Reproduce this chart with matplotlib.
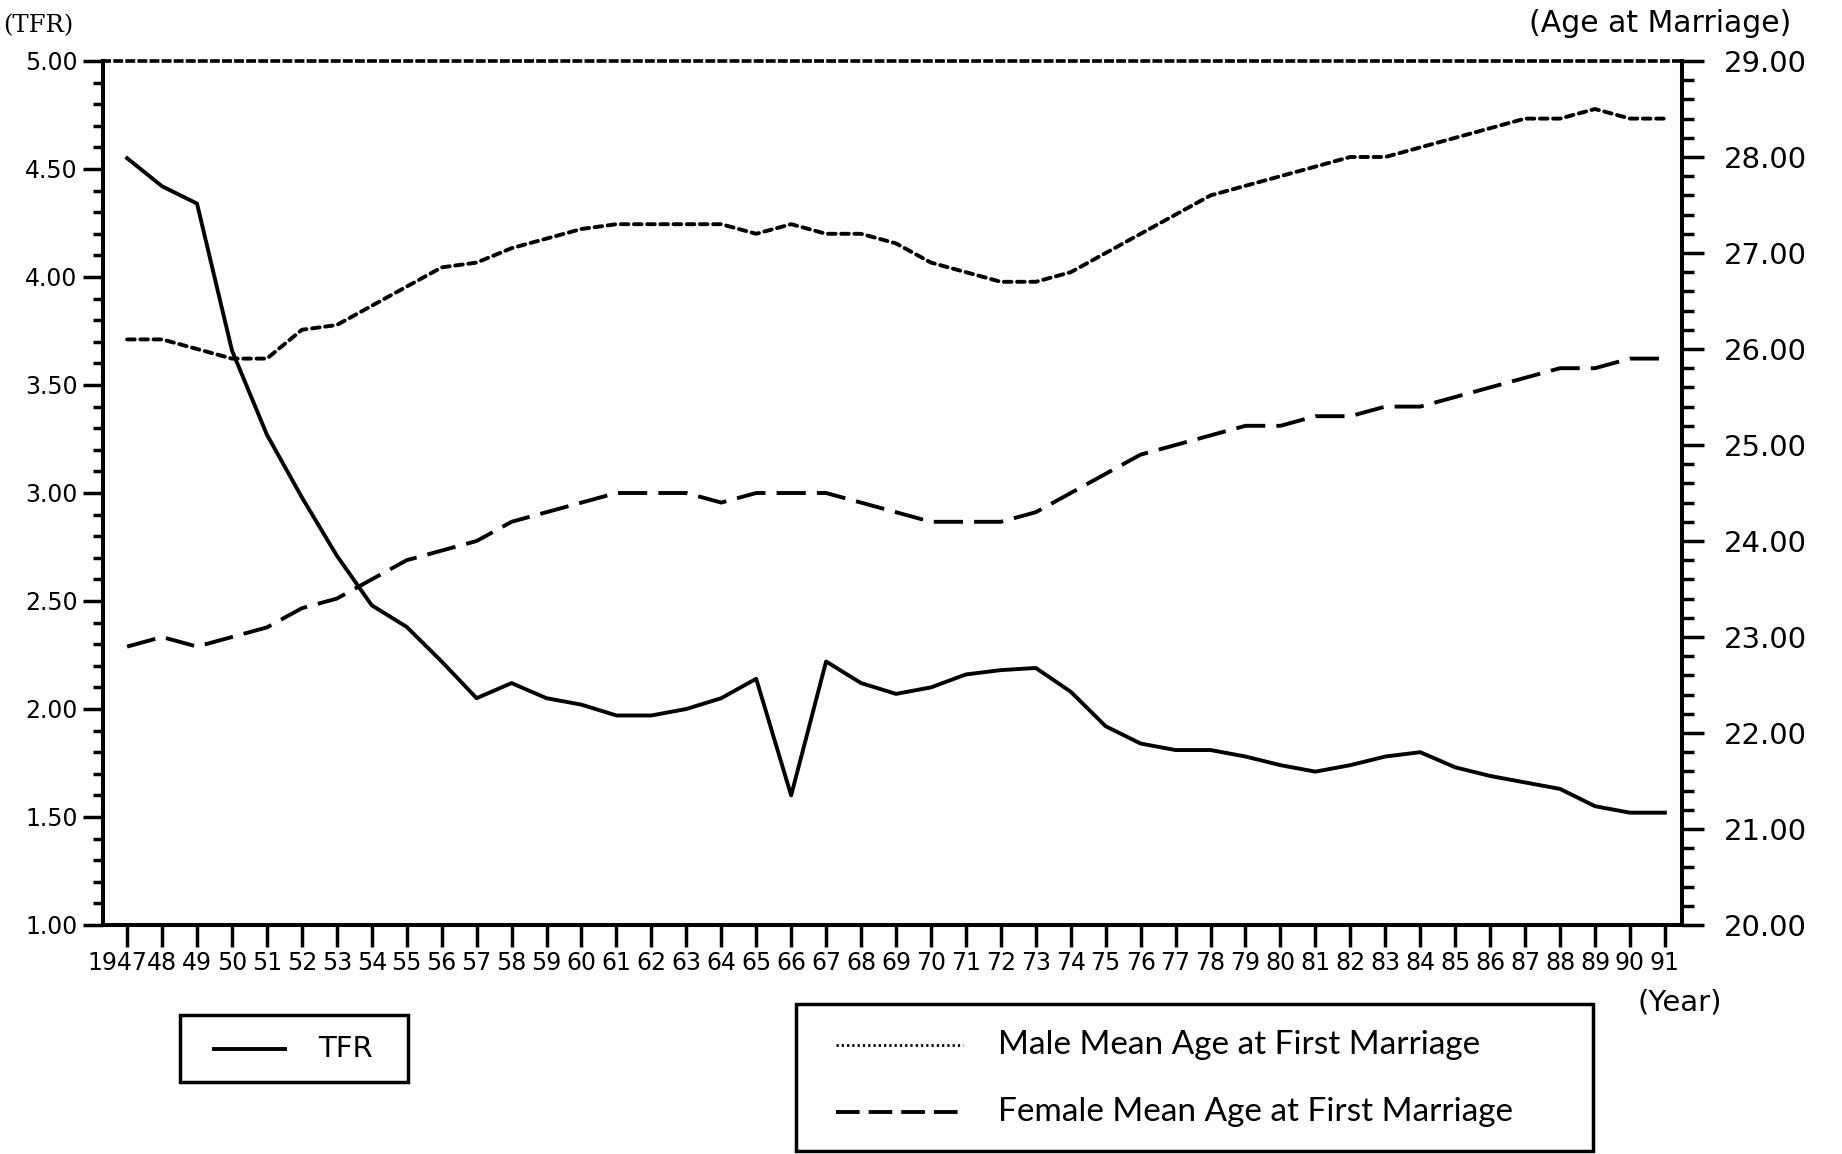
import matplotlib
matplotlib.use('Agg')
import matplotlib.pyplot as plt
from matplotlib.ticker import MultipleLocator, FormatStrFormatter, FixedLocator, FixedFormatter
from matplotlib.lines import Line2D
from matplotlib.patches import Rectangle
from matplotlib.transforms import ScaledTranslation

plt.rcParams['lines.scale_dashes'] = False
plt.rcParams['font.family'] = ['DejaVu Sans']

# ---------------- data ----------------
years = [1947, 1948, 1949, 1950, 1951, 1952, 1953, 1954, 1955, 1956,
         1957, 1958, 1959, 1960, 1961, 1962, 1963, 1964, 1965, 1966,
         1967, 1968, 1969, 1970, 1971, 1972, 1973, 1974, 1975, 1976,
         1977, 1978, 1979, 1980, 1981, 1982, 1983, 1984, 1985, 1986,
         1987, 1988, 1989, 1990, 1991]
year_labels = ['1947', '48', '49', '50', '51', '52', '53', '54', '55', '56',
               '57', '58', '59', '60', '61', '62', '63', '64', '65', '66',
               '67', '68', '69', '70', '71', '72', '73', '74', '75', '76',
               '77', '78', '79', '80', '81', '82', '83', '84', '85', '86',
               '87', '88', '89', '90', '91']
tfr = [4.55, 4.42, 4.34, 3.66, 3.27, 2.98, 2.71, 2.48, 2.38, 2.22,
       2.05, 2.12, 2.05, 2.02, 1.97, 1.97, 2.00, 2.05, 2.14, 1.60,
       2.22, 2.12, 2.07, 2.10, 2.16, 2.18, 2.19, 2.08, 1.92, 1.84,
       1.81, 1.81, 1.78, 1.74, 1.71, 1.74, 1.78, 1.80, 1.73, 1.69,
       1.66, 1.63, 1.55, 1.52, 1.52]
male_age = [26.1, 26.1, 26.0, 25.9, 25.9, 26.2, 26.25, 26.45, 26.65, 26.85,
            26.9, 27.05, 27.15, 27.25, 27.3, 27.3, 27.3, 27.3, 27.2, 27.3,
            27.2, 27.2, 27.1, 26.9, 26.8, 26.7, 26.7, 26.8, 27.0, 27.2,
            27.4, 27.6, 27.7, 27.8, 27.9, 28.0, 28.0, 28.1, 28.2, 28.3,
            28.4, 28.4, 28.5, 28.4, 28.4]
female_age = [22.9, 23.0, 22.9, 23.0, 23.1, 23.3, 23.4, 23.6, 23.8, 23.9,
              24.0, 24.2, 24.3, 24.4, 24.5, 24.5, 24.5, 24.4, 24.5, 24.5,
              24.5, 24.4, 24.3, 24.2, 24.2, 24.2, 24.3, 24.5, 24.7, 24.9,
              25.0, 25.1, 25.2, 25.2, 25.3, 25.3, 25.4, 25.4, 25.5, 25.6,
              25.7, 25.8, 25.8, 25.9, 25.9]
legend_tfr = 'TFR'
legend_male = 'Male Mean Age at First Marriage'
legend_female = 'Female Mean Age at First Marriage'

# ---------------- layout helpers ----------------
W, H = 1842, 1154
def fx(px):
    return px / W
def fy(py):
    return 1 - py / H

fig = plt.figure(figsize=(W / 100, H / 100), dpi=100)
L, R, T, B = 103, 1682, 61, 925
ax = fig.add_axes([fx(L), fy(B), (R - L) / W, (B - T) / H])
ax2 = ax.twinx()

LW = 2.8
ax.plot(years, tfr, color='black', lw=LW, solid_joinstyle='round', zorder=3)
ax2.plot(years, male_age, color='black', lw=LW, dashes=(5.5, 4.0),
         dash_capstyle='round', zorder=3)
ax2.plot(years, female_age, color='black', lw=LW, dashes=(21, 8), zorder=3)

ax.set_xlim(1946.31, 1991.49)
ax.set_ylim(1.0, 5.0)
ax2.set_ylim(20.0, 29.0)

# spines
spw = 2.9
for a in (ax, ax2):
    for s in a.spines.values():
        s.set_linewidth(spw)
ax.spines['right'].set_visible(False)
ax2.spines['left'].set_visible(False)
ax2.spines['bottom'].set_visible(False)
ax2.spines['top'].set_visible(False)
ax.spines['top'].set_linestyle((0, (4.5, 4.2)))
ax.spines['top'].set_linewidth(2.6)

# x ticks
ax.xaxis.set_major_locator(FixedLocator(years))
ax.xaxis.set_major_formatter(FixedFormatter(year_labels))
ax.tick_params(axis='x', which='major', direction='out', length=16, width=2.5,
               pad=3, labelsize=17)
xlabs = ax.get_xticklabels()
for lab in xlabs:
    lab.set_fontfamily(['Liberation Sans Narrow', 'DejaVu Sans'])
xlabs[0].set_transform(xlabs[0].get_transform() +
                       ScaledTranslation(-10 / 100, 0, fig.dpi_scale_trans))

# left y ticks
ax.yaxis.set_major_locator(MultipleLocator(0.5))
ax.yaxis.set_minor_locator(MultipleLocator(0.1))
ax.yaxis.set_major_formatter(FormatStrFormatter('%.2f'))
ax.tick_params(axis='y', which='major', direction='out', length=14.4, width=2.5,
               pad=4, labelsize=17)
ax.tick_params(axis='y', which='minor', direction='out', length=7.2, width=2.5)

# right y ticks
ax2.yaxis.set_major_locator(MultipleLocator(1.0))
ax2.yaxis.set_minor_locator(MultipleLocator(0.2))
ax2.yaxis.set_major_formatter(FormatStrFormatter('%.2f'))
ax2.tick_params(axis='y', which='major', direction='out', length=16, width=2.5,
                pad=14, labelsize=21)
ax2.tick_params(axis='y', which='minor', direction='out', length=8.6, width=2.5)

# axis captions
fig.text(fx(3), fy(26), '(TFR)', ha='left', va='center', fontsize=17.5,
         family=['DejaVu Serif'])
fig.text(fx(1791), fy(23), '(Age at Marriage)', ha='right', va='center',
         fontsize=21.5)
fig.text(fx(1722), fy(1003), '(Year)', ha='right', va='center', fontsize=21,
         family=['Liberation Sans Narrow', 'DejaVu Sans'])

# legend 1 (TFR)
fig.add_artist(Rectangle((fx(180), fy(1082)), (408 - 180) / W, (1082 - 1015) / H,
                         transform=fig.transFigure, fill=False, lw=2.5,
                         edgecolor='black'))
fig.add_artist(Line2D([fx(214), fx(285)], [fy(1049), fy(1049)],
                      transform=fig.transFigure, color='black', lw=LW))
fig.text(fx(318), fy(1049), legend_tfr, ha='left', va='center', fontsize=21,
         family=['Liberation Sans Narrow', 'DejaVu Sans'])

# legend 2 (ages)
fig.add_artist(Rectangle((fx(796), fy(1151)), (1593 - 796) / W, (1151 - 1004) / H,
                         transform=fig.transFigure, fill=False, lw=2.5,
                         edgecolor='black'))
fig.add_artist(Line2D([fx(836), fx(963)], [fy(1045), fy(1045)],
                      transform=fig.transFigure, color='black', lw=2.0,
                      dashes=(1.6, 2.2)))
fig.add_artist(Line2D([fx(836), fx(965)], [fy(1112), fy(1112)],
                      transform=fig.transFigure, color='black', lw=LW,
                      dashes=(17, 6.5)))
fig.text(fx(998), fy(1045), legend_male, ha='left', va='center', fontsize=24,
         family=['Lato', 'DejaVu Sans'])
fig.text(fx(998), fy(1112), legend_female, ha='left', va='center', fontsize=24,
         family=['Lato', 'DejaVu Sans'])

fig.savefig('out.png', dpi=100, facecolor='white')
